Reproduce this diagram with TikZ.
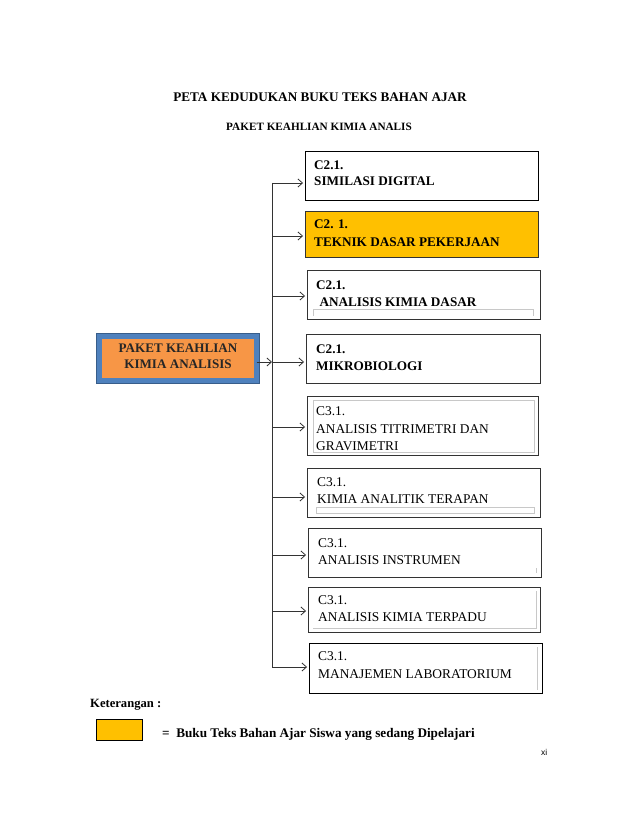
\documentclass[tikz,border=0pt]{standalone}
\usepackage{fontspec}
\setmainfont{Liberation Serif}
\newfontfamily\pagenumfont{Liberation Sans}
\usetikzlibrary{arrows.meta}
\definecolor{gold}{HTML}{FFC000}
\definecolor{lborange}{HTML}{F79646}
\definecolor{lbblue}{HTML}{4F81BD}
\definecolor{lbdark}{HTML}{385D8A}
\definecolor{boxgray}{HTML}{333333}
\definecolor{innergray}{HTML}{C8C8C8}
\tikzset{
  box/.style={rectangle, draw=boxgray, fill=white, line width=0.9pt, inner sep=0pt},
  bt/.style={anchor=base west, inner sep=0pt, font=\fontsize{13.2}{15}\selectfont\bfseries},
  rt/.style={anchor=base west, inner sep=0pt, font=\fontsize{13.4}{15}\selectfont},
  arr/.style={-{Straight Barb[length=4.5pt,width=8pt]}, line width=0.8pt, draw=boxgray},
  conn/.style={line width=0.9pt, draw=boxgray},
  inner/.style={draw=innergray, line width=0.6pt}
}
\newcommand{\mkbox}[6]{%
  \node[box, draw=#6, minimum width={(#4-#2)*1pt}, minimum height={(#5-#3)*1pt}] (#1) at ({(#2+#4)/2},{(#3+#5)/2}) {};}
\begin{document}
\begin{tikzpicture}[x=1pt,y=-1pt]
\useasboundingbox[fill=white] (0,0) rectangle (638,826);

% titles
\node[anchor=base, inner sep=0pt, font=\fontsize{13.2}{15}\selectfont\bfseries] (title) at (320,102) {PETA KEDUDUKAN BUKU TEKS BAHAN AJAR};
\node[anchor=base, inner sep=0pt, font=\fontsize{11.2}{13}\selectfont\bfseries] (subtitle) at (319,131) {PAKET KEAHLIAN KIMIA ANALIS};

% left box
\node[rectangle, fill=lborange, draw=lbblue, line width=4.5pt, minimum width=157pt, minimum height=44pt, inner sep=0pt, outer sep=0pt] (lb) at (178,358.5) {};
\draw[lbdark, line width=0.9pt] ([shift={(-2.6,-2.6)}]lb.north west) rectangle ([shift={(2.6,2.6)}]lb.south east);
\node[anchor=base, inner sep=0pt, font=\fontsize{13.1}{15}\selectfont\bfseries, text=black!85] (lbt1) at (178,352) {PAKET KEAHLIAN};
\node[anchor=base, inner sep=0pt, font=\fontsize{13.1}{15}\selectfont\bfseries, text=black!85] (lbt2) at (178,368) {KIMIA ANALISIS};

% right boxes
\mkbox{b1}{305}{151}{538}{200}{black}
\node[box, fill=gold, draw=boxgray, minimum width=233pt, minimum height=46pt] (b2) at (421.5,234) {};
\mkbox{b3}{307}{270}{540}{319}{boxgray}
\mkbox{b4}{306}{334}{540}{383}{boxgray}
\mkbox{b5}{307}{396}{538}{455}{boxgray}
\mkbox{b6}{307}{468}{540}{517}{boxgray}
\mkbox{b7}{308}{528}{541}{577}{boxgray}
\mkbox{b8}{308}{587}{540}{632}{boxgray}
\mkbox{b9}{309}{643}{542}{693}{black}

% inner faint text-box borders
\draw[inner] (313,316) -- (313,309) -- (533,309) -- (533,316);
\draw[inner] (313,400) rectangle (534,452);
\draw[inner] (316,507) rectangle (534,513);
\draw[inner] (536,568) -- (536,573);
\draw[inner] (313,628) -- (536,628) -- (536,591);
\draw[inner] (537,647) -- (537,690);

% texts
\node[bt] (t1a) at (314,170) {C2.1.};
\node[bt] (t1b) at (314,186) {SIMILASI DIGITAL};
\node[bt] (t2a) at (314,229) {C2. 1.};
\node[bt] (t2b) at (314,246) {TEKNIK DASAR PEKERJAAN};
\node[bt] (t3a) at (316,289) {C2.1.};
\node[bt] (t3b) at (316,306) {\ ANALISIS KIMIA DASAR};
\node[bt] (t4a) at (316,353) {C2.1.};
\node[bt] (t4b) at (316,370) {MIKROBIOLOGI};
\node[rt] (t5a) at (316,415) {C3.1.};
\node[rt] (t5b) at (316,433) {ANALISIS TITRIMETRI DAN};
\node[rt] (t5c) at (316,450.5) {GRAVIMETRI};
\node[rt] (t6a) at (317,486) {C3.1.};
\node[rt] (t6b) at (317,503) {KIMIA ANALITIK TERAPAN};
\node[rt] (t7a) at (318,547) {C3.1.};
\node[rt] (t7b) at (318,564) {ANALISIS INSTRUMEN};
\node[rt] (t8a) at (318,604) {C3.1.};
\node[rt] (t8b) at (318,621) {ANALISIS KIMIA TERPADU};
\node[rt] (t9a) at (318,660) {C3.1.};
\node[rt] (t9b) at (318,678) {MANAJEMEN LABORATORIUM};

% connectors
\coordinate (j1) at (272,183);
\coordinate (j2) at (272,236);
\coordinate (j3) at (272,296);
\coordinate (j4) at (272,362);
\coordinate (j5) at (272,427);
\coordinate (j6) at (272,497);
\coordinate (j7) at (272,555);
\coordinate (j8) at (272,611);
\coordinate (j9) at (272,667);
\draw[conn] (j1) -- (j9);
\foreach \i in {1,...,9} {
  \draw[arr, shorten >=1.5pt] (j\i) -- (j\i -| b\i.west);
}
\draw[arr] (lb.east |- j4) -- (j4);

% legend
\node[anchor=base west, inner sep=0pt, font=\fontsize{12.6}{15}\selectfont\bfseries] (ket) at (90,707) {Keterangan :};
\node[rectangle, fill=gold, draw=black, line width=1.8pt, minimum width=46pt, minimum height=21pt, inner sep=0pt] (leg) at (119.5,730) {};
\node[anchor=base west, inner sep=0pt, font=\fontsize{13.2}{15}\selectfont\bfseries] (legt) at (162,737) {=\ \ Buku Teks Bahan Ajar Siswa yang sedang Dipelajari};
\node[anchor=base west, inner sep=0pt, font=\pagenumfont\fontsize{8.5}{10}\selectfont] (pg) at (541,755) {xi};
\end{tikzpicture}
\end{document}
